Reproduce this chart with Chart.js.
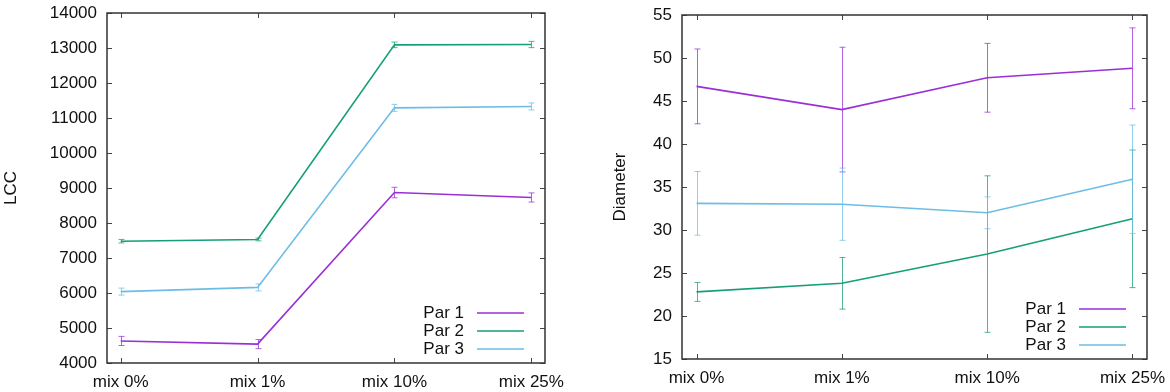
<!DOCTYPE html>
<html>
<head>
<meta charset="utf-8">
<script src="https://cdn.jsdelivr.net/npm/chart.js@4.4.1/dist/chart.umd.min.js"></script>
<style>
  body { margin: 0; background: #fff; }
  #wrap { position: relative; width: 1170px; height: 392px; }
  canvas { position: absolute; top: 0; }
  #lccChart { left: 0; }
  #diaChart { left: 585px; }
</style>
</head>
<body>
<div id="wrap">
  <canvas id="lccChart" width="585" height="392"></canvas>
  <canvas id="diaChart" width="585" height="392"></canvas>
</div>
<script>
// ---- data ----
const categories = ["mix 0%", "mix 1%", "mix 10%", "mix 25%"];
const seriesNames = ["Par 1", "Par 2", "Par 3"];

const lccPar1 = [4630, 4540, 8870, 8730];
const lccPar1Err = [130, 130, 150, 130];
const lccPar2 = [7480, 7530, 13090, 13100];
const lccPar2Err = [50, 40, 80, 90];
const lccPar3 = [6040, 6160, 11290, 11330];
const lccPar3Err = [100, 100, 100, 100];

const diaPar1 = [46.7, 44.0, 47.7, 48.8];
const diaPar1Err = [4.35, 7.25, 4.0, 4.7];
const diaPar2 = [22.8, 23.8, 27.2, 31.3];
const diaPar2Err = [1.1, 3.0, 9.1, 8.0];
const diaPar3 = [33.1, 33.0, 32.0, 35.9];
const diaPar3Err = [3.7, 4.2, 1.85, 6.3];

const colors = ["#9a2fd6", "#159e78", "#6cbde6"];
const FONT = "'Liberation Sans', Arial, sans-serif";

// gnuplot-ish look: frame, inward ticks, error bars, legend in bottom right
const gnuplotDecor = {
    id: "gnuplotDecor",
    afterDatasetsDraw(chart) {
        const ctx = chart.ctx;
        const xs = chart.scales.x, ys = chart.scales.y;
        ctx.save();
        chart.data.datasets.forEach(ds => {
            ctx.strokeStyle = ds.borderColor;
            ctx.globalAlpha = 0.75;
            ctx.lineWidth = 1;
            ds.data.forEach((p, i) => {
                const e = ds.errors[i];
                const x = Math.round(xs.getPixelForValue(p.x)) + 0.5;
                const y1 = ys.getPixelForValue(p.y + e);
                const y2 = ys.getPixelForValue(p.y - e);
                ctx.beginPath();
                ctx.moveTo(x, y1); ctx.lineTo(x, y2);
                ctx.moveTo(x - 3, y1); ctx.lineTo(x + 3, y1);
                ctx.moveTo(x - 3, y2); ctx.lineTo(x + 3, y2);
                ctx.stroke();
            });
        });
        ctx.restore();
    },
    afterDraw(chart) {
        const ctx = chart.ctx;
        const a = chart.chartArea;
        const xs = chart.scales.x, ys = chart.scales.y;
        ctx.save();
        // ticks
        ctx.strokeStyle = "#444";
        ctx.lineWidth = 1;
        ctx.beginPath();
        ys.ticks.forEach(t => {
            const y = Math.round(ys.getPixelForValue(t.value)) + 0.5;
            ctx.moveTo(a.left, y); ctx.lineTo(a.left + 5, y);
            ctx.moveTo(a.right, y); ctx.lineTo(a.right - 5, y);
        });
        xs.ticks.forEach(t => {
            const x = Math.round(xs.getPixelForValue(t.value)) + 0.5;
            ctx.moveTo(x, a.bottom); ctx.lineTo(x, a.bottom - 5);
            ctx.moveTo(x, a.top); ctx.lineTo(x, a.top + 5);
        });
        ctx.stroke();
        // frame
        ctx.strokeStyle = "#333";
        ctx.lineWidth = 1.5;
        ctx.strokeRect(a.left, a.top, a.right - a.left, a.bottom - a.top);
        // legend
        ctx.font = "17px " + FONT;
        ctx.textAlign = "right";
        ctx.textBaseline = "middle";
        const n = chart.data.datasets.length;
        chart.data.datasets.forEach((ds, i) => {
            const y = a.bottom - 14 - (n - 1 - i) * 18;
            ctx.fillStyle = "#111";
            ctx.fillText(ds.label, a.right - 81, y);
            ctx.strokeStyle = ds.borderColor;
            ctx.lineWidth = 1.5;
            ctx.beginPath();
            ctx.moveTo(a.right - 68, y);
            ctx.lineTo(a.right - 21, y);
            ctx.stroke();
        });
        ctx.restore();
    }
};

function makeDataset(name, values, errs, color) {
    return {
        label: name,
        data: values.map((v, i) => ({ x: i, y: v })),
        errors: errs,
        borderColor: color,
        backgroundColor: color,
        borderWidth: 1.6,
        pointRadius: 0,
        tension: 0,
        fill: false
    };
}

function makeChart(canvasId, title, series, yMin, yMax, yStep, layout) {
    return new Chart(document.getElementById(canvasId), {
        type: "line",
        data: {
            datasets: series.map((s, i) => makeDataset(seriesNames[i], s[0], s[1], colors[i]))
        },
        options: {
            responsive: false,
            animation: false,
            layout: { padding: layout.padding },
            plugins: { legend: { display: false }, tooltip: { enabled: false } },
            scales: {
                x: {
                    type: "linear",
                    min: -0.1,
                    max: 3.1,
                    afterBuildTicks: s => { s.ticks = categories.map((c, i) => ({ value: i })); },
                    afterFit: s => {
                        s.height = layout.xHeight;
                        s.paddingLeft = 0; s.paddingRight = 0;
                    },
                    grid: { display: false, drawTicks: false },
                    border: { display: false },
                    ticks: {
                        color: "#111",
                        padding: 9,
                        maxRotation: 0,
                        font: { family: FONT, size: 17 },
                        callback: v => categories[v] ?? ""
                    }
                },
                y: {
                    min: yMin,
                    max: yMax,
                    afterFit: s => {
                        s.width = layout.yWidth;
                        s.paddingTop = 0; s.paddingBottom = 0;
                    },
                    grid: { display: false, drawTicks: false },
                    border: { display: false },
                    ticks: {
                        stepSize: yStep,
                        color: "#111",
                        padding: 10,
                        font: { family: FONT, size: 17 },
                        callback: v => String(v)
                    },
                    title: {
                        display: true,
                        text: title,
                        color: "#111",
                        padding: { top: layout.titlePad, bottom: 0 },
                        font: { family: FONT, size: 17 }
                    }
                }
            }
        },
        plugins: [gnuplotDecor]
    });
}

makeChart("lccChart", "LCC",
    [[lccPar1, lccPar1Err], [lccPar2, lccPar2Err], [lccPar3, lccPar3Err]],
    4000, 14000, 1000,
    { padding: { left: 0, top: 13, right: 40, bottom: 0 }, yWidth: 107, xHeight: 29, titlePad: 1 });

makeChart("diaChart", "Diameter",
    [[diaPar1, diaPar1Err], [diaPar2, diaPar2Err], [diaPar3, diaPar3Err]],
    15, 55, 5,
    { padding: { left: 0, top: 15, right: 23, bottom: 0 }, yWidth: 97, xHeight: 33, titlePad: 25 });
</script>
</body>
</html>
